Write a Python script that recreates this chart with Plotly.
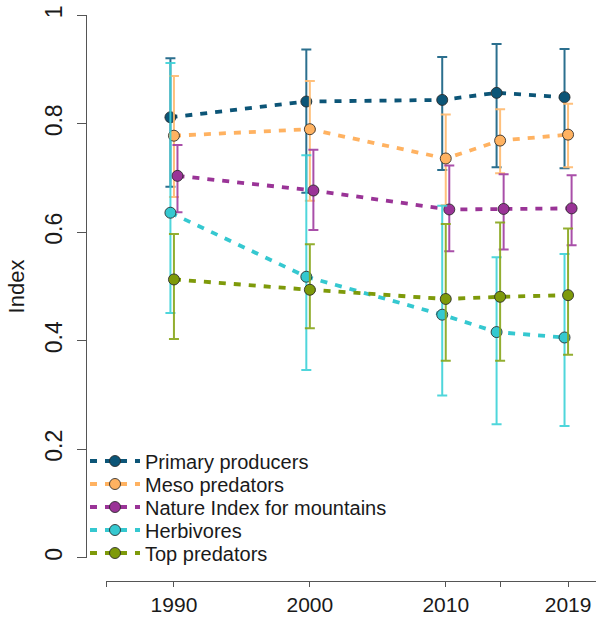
import plotly.graph_objects as go

W, H = 596, 619

years = [1990, 2000, 2010, 2014, 2019]

series_names = ["Primary producers", "Meso predators", "Nature Index for mountains",
                "Herbivores", "Top predators"]

primary = [0.812, 0.841, 0.844, 0.857, 0.849]
primary_lo = [0.684, 0.673, 0.715, 0.720, 0.718]
primary_hi = [0.921, 0.937, 0.923, 0.947, 0.938]

meso = [0.778, 0.790, 0.736, 0.769, 0.780]
meso_lo = [0.665, 0.658, 0.650, 0.709, 0.720]
meso_hi = [0.888, 0.879, 0.817, 0.827, 0.837]

nature = [0.704, 0.677, 0.642, 0.643, 0.644]
nature_lo = [0.637, 0.604, 0.565, 0.568, 0.576]
nature_hi = [0.761, 0.752, 0.723, 0.707, 0.705]

herbivores = [0.636, 0.518, 0.448, 0.416, 0.406]
herbivores_lo = [0.451, 0.346, 0.299, 0.246, 0.243]
herbivores_hi = [0.912, 0.742, 0.649, 0.554, 0.560]

top = [0.513, 0.494, 0.477, 0.481, 0.484]
top_lo = [0.403, 0.423, 0.363, 0.363, 0.374]
top_hi = [0.597, 0.578, 0.615, 0.618, 0.607]

y_ticks = [0, 0.2, 0.4, 0.6, 0.8, 1]
y_ticktext = ["0", "0.2", "0.4", "0.6", "0.8", "1"]
x_ticks = [1985, 1990, 2000, 2010, 2014, 2019]
x_ticktext = ["", "1990", "2000", "2010", "", "2019"]

# styles
colors = ["#0C5577", "#FFB261", "#9A3497", "#35C8D0", "#7E9A0A"]
err_colors = ["rgba(20,95,130,0.9)", "rgba(255,185,110,0.9)", "rgba(160,60,160,0.9)",
              "rgba(60,210,215,0.9)", "rgba(135,165,25,0.9)"]
dodge = [-0.26, 0.0, 0.26, -0.26, 0.0]

data = [
    (primary, primary_lo, primary_hi),
    (meso, meso_lo, meso_hi),
    (nature, nature_lo, nature_hi),
    (herbivores, herbivores_lo, herbivores_hi),
    (top, top_lo, top_hi),
]

legend_centers = [461, 484, 507, 530, 553]
FONT = "Liberation Sans, Arial, sans-serif"

fig = go.Figure()
for i, (name, (vals, lo, hi)) in enumerate(zip(series_names, data)):
    lname = "legend" if i == 0 else f"legend{i+1}"
    fig.add_trace(go.Scatter(
        x=[y + dodge[i] for y in years], y=vals, name=name,
        mode="lines+markers",
        line=dict(color=colors[i], width=3.8, dash="7px,8px"),
        marker=dict(color=colors[i], size=11, line=dict(color="rgba(40,40,40,0.85)", width=1)),
        error_y=dict(type="data", symmetric=False,
                     array=[h - v for h, v in zip(hi, vals)],
                     arrayminus=[v - l for v, l in zip(vals, lo)],
                     color=err_colors[i], thickness=2, width=5),
        legend=lname, showlegend=True,
    ))

layout = dict(
    width=W, height=H,
    margin=dict(l=0, r=0, t=0, b=0, autoexpand=False),
    showlegend=True,
    paper_bgcolor="white", plot_bgcolor="white",
    font=dict(family=FONT, color="#1a1a1a"),
    xaxis=dict(range=[1985, 1985 + (596 - 106) / 13.59], domain=[106 / W, 1],
               anchor="free", position=1 - 581 / H, automargin=False,
               tickvals=x_ticks, ticktext=x_ticktext,
               showline=True, linecolor="#555", linewidth=1.3,
               ticks="outside", ticklen=5, tickcolor="#555", tickwidth=1.3,
               ticklabelstandoff=0,
               tickfont=dict(size=21, family=FONT, color="#1a1a1a"),
               showgrid=False, zeroline=False),
    yaxis=dict(range=[0, 1], domain=[1 - 557.7 / H, 1 - 15.3 / H],
               anchor="free", position=86 / W, automargin=False,
               tickvals=y_ticks, ticktext=y_ticktext, tickangle=-90,
               showline=True, linecolor="#555", linewidth=1.3,
               ticks="outside", ticklen=9, tickcolor="#555", tickwidth=1.3,
               ticklabelstandoff=6,
               tickfont=dict(size=23, family=FONT, color="#1a1a1a"),
               title=dict(text="Index", font=dict(size=22, family=FONT, color="#1a1a1a"), standoff=8),
               showgrid=False, zeroline=False),
)
for i, c in enumerate(legend_centers):
    lname = "legend" if i == 0 else f"legend{i+1}"
    layout[lname] = dict(x=85 / W, y=1 - c / H, xanchor="left", yanchor="middle",
                         bgcolor="rgba(0,0,0,0)", borderwidth=0, itemwidth=50,
                         font=dict(size=20, family=FONT, color="#1a1a1a"))
fig.update_layout(**layout)

fig.write_html("out.html")
